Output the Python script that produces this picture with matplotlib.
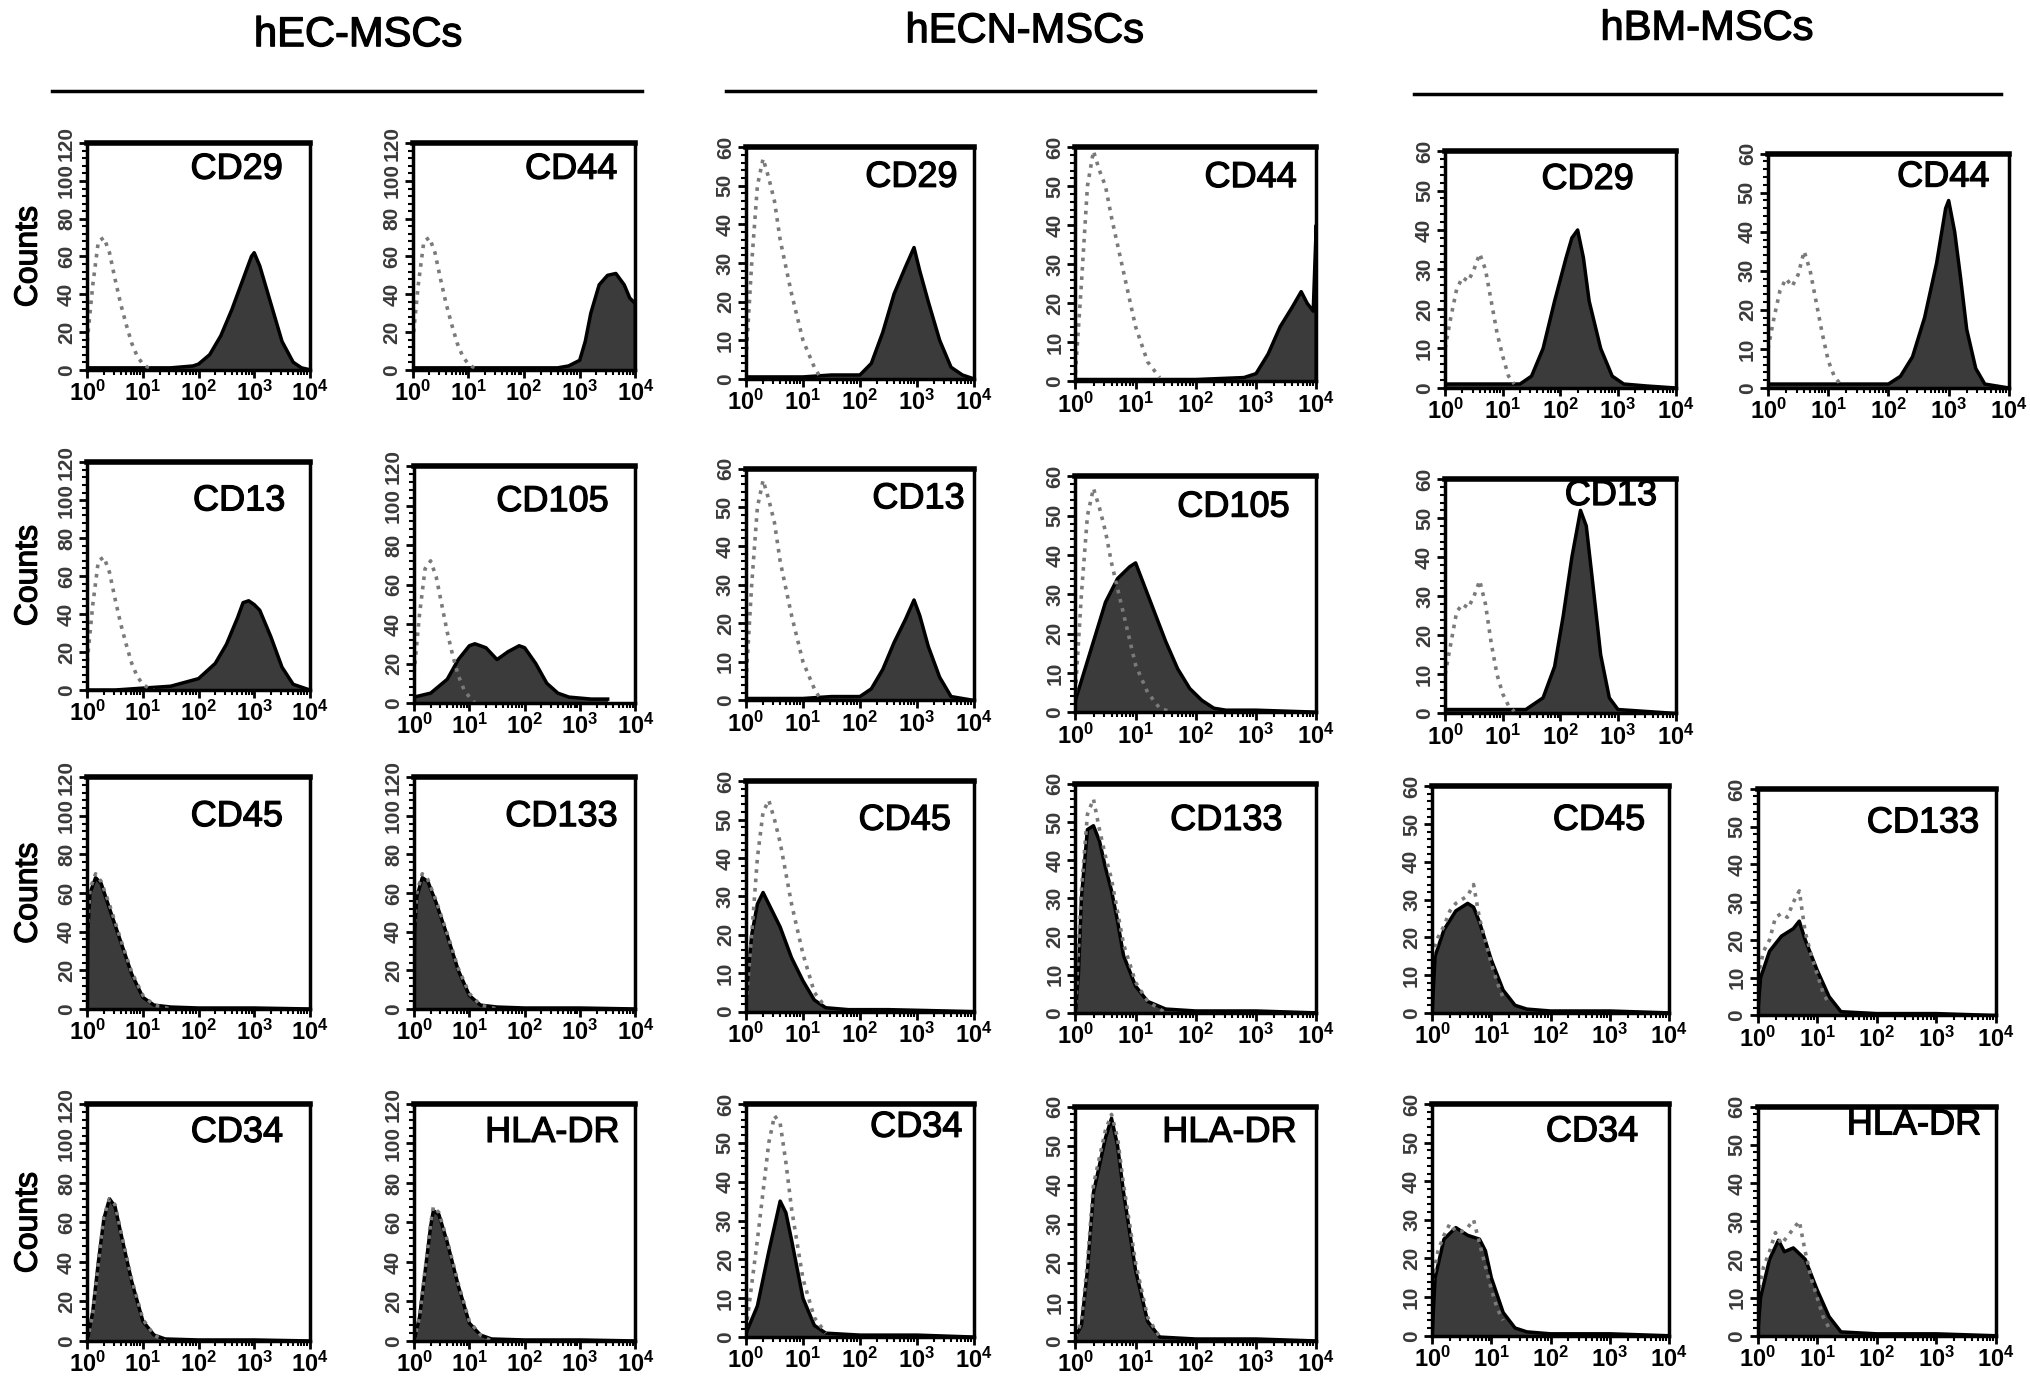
import numpy as np
import matplotlib.pyplot as plt
import matplotlib.patheffects as pe
from matplotlib.lines import Line2D
from matplotlib.ticker import MultipleLocator, LogLocator, NullFormatter

plt.rcParams['font.family'] = ['Liberation Sans', 'DejaVu Sans']
plt.rcParams['mathtext.fontset'] = 'custom'
plt.rcParams['mathtext.rm'] = 'Liberation Sans'
plt.rcParams['mathtext.it'] = 'Liberation Sans'
plt.rcParams['mathtext.bf'] = 'Liberation Sans:bold'

# ---- data: log10(fluorescence) positions and counts ----
groups = ['hEC-MSCs', 'hECN-MSCs', 'hBM-MSCs']
group_ymax = [120, 60, 60]

# hEC-MSCs
hec_cd29_x = [0, 0.5, 1.0, 1.5, 1.9, 2.0, 2.2, 2.4, 2.6, 2.8, 2.95, 3.0, 3.1, 3.3, 3.5, 3.7, 3.85, 4.0]
hec_cd29_y = [1, 1, 1, 1, 2, 3, 8, 18, 32, 48, 60, 62, 55, 35, 15, 4, 1, 0]
hec_cd29_iso_x = [0, 0.1, 0.2, 0.3, 0.4, 0.5, 0.6, 0.7, 0.8, 0.9, 1.0, 1.1, 1.2]
hec_cd29_iso_y = [15, 45, 68, 70, 62, 48, 35, 24, 14, 7, 3, 1, 0]

hec_cd44_x = [0, 1.0, 2.0, 2.6, 2.8, 3.0, 3.1, 3.2, 3.35, 3.5, 3.65, 3.8, 3.9, 4.0, 4.0]
hec_cd44_y = [1, 1, 1, 1, 2, 5, 15, 30, 45, 50, 51, 45, 38, 35, 0]
hec_cd44_iso_x = [0, 0.1, 0.2, 0.3, 0.4, 0.5, 0.6, 0.7, 0.8, 0.9, 1.0, 1.1, 1.2]
hec_cd44_iso_y = [15, 45, 68, 70, 62, 48, 35, 24, 14, 7, 3, 1, 0]

hec_cd13_x = [0, 0.5, 1.0, 1.5, 2.0, 2.3, 2.5, 2.7, 2.8, 2.9, 3.0, 3.1, 3.3, 3.5, 3.7, 3.9, 4.0]
hec_cd13_y = [0, 0, 1, 2, 6, 14, 24, 38, 46, 47, 45, 42, 28, 12, 3, 1, 0]
hec_cd13_iso_x = [0, 0.1, 0.2, 0.3, 0.4, 0.5, 0.6, 0.7, 0.8, 0.9, 1.0, 1.1, 1.2]
hec_cd13_iso_y = [15, 45, 68, 70, 62, 48, 35, 24, 14, 7, 3, 1, 0]

hec_cd105_x = [0, 0.3, 0.6, 0.8, 1.0, 1.1, 1.3, 1.5, 1.7, 1.9, 2.0, 2.2, 2.4, 2.6, 2.8, 3.2, 3.5]
hec_cd105_y = [3, 5, 12, 22, 29, 30, 28, 22, 26, 29, 28, 20, 10, 5, 3, 2, 2]
hec_cd105_iso_x = [0, 0.1, 0.2, 0.3, 0.4, 0.5, 0.6, 0.7, 0.8, 0.9, 1.0, 1.1]
hec_cd105_iso_y = [15, 45, 68, 72, 64, 50, 36, 24, 14, 7, 3, 0]

hec_cd45_x = [0, 0.01, 0.05, 0.15, 0.25, 0.4, 0.6, 0.8, 1.0, 1.2, 1.5, 2.0, 3.0, 4.0]
hec_cd45_y = [0, 40, 60, 68, 65, 52, 35, 18, 6, 2, 1, 0.5, 0.5, 0]
hec_cd45_iso_x = [0, 0.05, 0.15, 0.25, 0.4, 0.6, 0.8, 1.0, 1.2, 1.5]
hec_cd45_iso_y = [40, 62, 70, 66, 54, 36, 19, 7, 2, 0]

hec_cd133_x = [0, 0.01, 0.05, 0.15, 0.25, 0.4, 0.6, 0.8, 1.0, 1.2, 1.5, 2.0, 3.0, 4.0]
hec_cd133_y = [0, 40, 58, 68, 66, 55, 38, 20, 7, 2, 1, 0.5, 0.5, 0]
hec_cd133_iso_x = [0, 0.05, 0.15, 0.25, 0.4, 0.6, 0.8, 1.0, 1.2, 1.5]
hec_cd133_iso_y = [40, 60, 70, 67, 56, 39, 21, 8, 2, 0]

hec_cd34_x = [0, 0.1, 0.2, 0.3, 0.4, 0.5, 0.6, 0.8, 1.0, 1.2, 1.4, 2.0, 3.0, 4.0]
hec_cd34_y = [0, 15, 40, 62, 72, 68, 55, 30, 10, 3, 1, 0.5, 0.5, 0]
hec_cd34_iso_x = [0, 0.1, 0.2, 0.3, 0.4, 0.5, 0.6, 0.8, 1.0, 1.2, 1.4]
hec_cd34_iso_y = [0, 14, 40, 63, 72, 69, 56, 31, 11, 3, 0]

hec_hla_x = [0, 0.1, 0.2, 0.3, 0.35, 0.45, 0.6, 0.8, 1.0, 1.2, 1.4, 2.0, 3.0, 4.0]
hec_hla_y = [0, 12, 35, 58, 66, 64, 50, 28, 9, 3, 1, 0.5, 0.5, 0]
hec_hla_iso_x = [0, 0.1, 0.2, 0.3, 0.35, 0.45, 0.6, 0.8, 1.0, 1.2, 1.4]
hec_hla_iso_y = [0, 12, 36, 59, 68, 65, 51, 29, 10, 3, 0]

# hECN-MSCs
hecn_cd29_x = [0, 0.5, 1.0, 1.5, 2.0, 2.2, 2.4, 2.6, 2.8, 2.95, 3.05, 3.2, 3.4, 3.6, 3.8, 4.0]
hecn_cd29_y = [0.5, 0.5, 0.5, 1, 1, 4, 12, 22, 29, 34, 28, 20, 10, 3, 1, 0]
hecn_cd29_iso_x = [0, 0.1, 0.2, 0.3, 0.4, 0.5, 0.6, 0.8, 1.0, 1.2, 1.3]
hecn_cd29_iso_y = [5, 30, 50, 57, 52, 46, 36, 22, 10, 3, 0.5]

hecn_cd44_x = [0, 1.0, 2.0, 2.8, 3.0, 3.2, 3.4, 3.6, 3.75, 3.85, 3.95, 4.0, 4.0]
hecn_cd44_y = [0.5, 0.5, 0.5, 1, 2, 7, 14, 19, 23, 20, 18, 40, 0]
hecn_cd44_iso_x = [0, 0.1, 0.2, 0.3, 0.4, 0.5, 0.6, 0.8, 1.0, 1.2, 1.4]
hecn_cd44_iso_y = [2, 25, 50, 59, 54, 50, 42, 28, 14, 5, 1]

hecn_cd13_x = [0, 0.5, 1.0, 1.5, 2.0, 2.2, 2.4, 2.6, 2.8, 2.95, 3.05, 3.2, 3.4, 3.6, 3.8, 4.0]
hecn_cd13_y = [0.5, 0.5, 0.5, 1, 1, 3, 8, 15, 21, 26, 22, 14, 6, 1, 0.5, 0]
hecn_cd13_iso_x = [0, 0.1, 0.2, 0.3, 0.4, 0.5, 0.6, 0.8, 1.0, 1.2, 1.3]
hecn_cd13_iso_y = [5, 30, 50, 57, 52, 46, 36, 22, 10, 3, 0.5]

hecn_cd105_x = [0, 0.1, 0.3, 0.5, 0.7, 0.9, 1.0, 1.1, 1.3, 1.5, 1.7, 1.9, 2.1, 2.3, 2.5, 3.0, 4.0]
hecn_cd105_y = [3, 8, 18, 28, 34, 37, 38, 34, 26, 18, 11, 6, 3, 1, 0.5, 0.5, 0]
hecn_cd105_iso_x = [0, 0.1, 0.2, 0.3, 0.4, 0.5, 0.6, 0.8, 1.0, 1.2, 1.4, 1.6]
hecn_cd105_iso_y = [5, 30, 50, 57, 52, 46, 38, 25, 12, 5, 1, 0]

hecn_cd45_x = [0, 0.1, 0.2, 0.3, 0.4, 0.6, 0.8, 1.0, 1.2, 1.4, 1.8, 2.5, 4.0]
hecn_cd45_y = [4, 20, 28, 31, 28, 22, 14, 8, 3, 1, 0.5, 0.5, 0]
hecn_cd45_iso_x = [0, 0.1, 0.2, 0.3, 0.4, 0.5, 0.6, 0.8, 1.0, 1.2, 1.4]
hecn_cd45_iso_y = [2, 20, 40, 52, 55, 50, 44, 28, 15, 5, 1]

hecn_cd133_x = [0, 0.05, 0.1, 0.2, 0.3, 0.4, 0.5, 0.6, 0.7, 0.8, 1.0, 1.2, 1.5, 2.0, 3.0, 4.0]
hecn_cd133_y = [0, 10, 30, 48, 49, 45, 38, 32, 24, 15, 7, 3, 1, 0.5, 0.5, 0]
hecn_cd133_iso_x = [0, 0.1, 0.2, 0.3, 0.4, 0.5, 0.6, 0.8, 1.0, 1.2, 1.5]
hecn_cd133_iso_y = [0, 32, 52, 56, 48, 41, 35, 18, 8, 3, 0]

hecn_cd34_x = [0, 0.2, 0.4, 0.6, 0.7, 0.8, 1.0, 1.2, 1.4, 2.0, 3.0, 4.0]
hecn_cd34_y = [1, 8, 22, 35, 32, 25, 10, 3, 1, 0.5, 0.5, 0]
hecn_cd34_iso_x = [0, 0.2, 0.4, 0.5, 0.6, 0.7, 0.8, 1.0, 1.2, 1.4]
hecn_cd34_iso_y = [2, 25, 50, 57, 55, 45, 33, 15, 5, 1]

hecn_hla_x = [0, 0.1, 0.2, 0.3, 0.5, 0.6, 0.7, 0.8, 1.0, 1.2, 1.4, 2.0, 3.0, 4.0]
hecn_hla_y = [1, 4, 18, 38, 52, 57, 50, 38, 18, 5, 1, 0.5, 0.5, 0]
hecn_hla_iso_x = [0, 0.1, 0.2, 0.3, 0.5, 0.6, 0.7, 0.8, 1.0, 1.2, 1.4]
hecn_hla_iso_y = [1, 5, 20, 40, 54, 58, 52, 40, 20, 6, 1]

# hBM-MSCs
hbm_iso_x = [0, 0.1, 0.2, 0.3, 0.4, 0.5, 0.6, 0.7, 0.8, 0.9, 1.0, 1.1, 1.2]

hbm_cd29_x = [0, 0.5, 1.0, 1.3, 1.5, 1.7, 1.9, 2.1, 2.2, 2.3, 2.4, 2.5, 2.7, 2.9, 3.1, 3.5, 4.0]
hbm_cd29_y = [1, 1, 1, 1, 3, 10, 22, 33, 38, 40, 33, 22, 10, 3, 1, 0.5, 0]
hbm_cd29_iso_y = [10, 18, 25, 28, 27, 30, 34, 30, 22, 14, 8, 3, 1]

hbm_cd44_x = [0, 1.0, 2.0, 2.2, 2.4, 2.6, 2.8, 2.95, 3.0, 3.1, 3.2, 3.3, 3.45, 3.6, 4.0]
hbm_cd44_y = [1, 1, 1, 3, 8, 18, 32, 46, 48, 40, 28, 15, 5, 1, 0]
hbm_cd44_iso_y = [10, 18, 25, 28, 26, 29, 35, 30, 22, 14, 7, 3, 1]

hbm_cd13_x = [0, 0.5, 1.0, 1.4, 1.7, 1.9, 2.05, 2.2, 2.35, 2.45, 2.55, 2.7, 2.85, 3.0, 3.5, 4.0]
hbm_cd13_y = [1, 1, 1, 1, 4, 12, 25, 40, 52, 48, 35, 15, 4, 1, 0.5, 0]
hbm_cd13_iso_y = [10, 18, 26, 28, 27, 30, 34, 28, 18, 10, 5, 2, 0.5]

hbm_cd45_x = [0, 0.05, 0.2, 0.4, 0.6, 0.7, 0.8, 1.0, 1.2, 1.4, 1.6, 2.0, 3.0, 4.0]
hbm_cd45_y = [0, 15, 22, 27, 29, 28, 24, 14, 6, 2, 1, 0.5, 0.5, 0]
hbm_cd45_iso_y = [15, 20, 23, 27, 29, 30, 31, 34, 25, 19, 13, 8, 4]

hbm_cd133_x = [0, 0.05, 0.2, 0.4, 0.6, 0.7, 0.8, 1.0, 1.2, 1.4, 2.0, 3.0, 4.0]
hbm_cd133_y = [0, 10, 17, 21, 23, 25, 20, 12, 5, 1, 0.5, 0.5, 0]
hbm_cd133_iso_y = [10, 17, 20, 26, 27, 26, 30, 33, 22, 16, 11, 6, 3]

hbm_cd34_x = [0, 0.05, 0.2, 0.4, 0.6, 0.8, 0.9, 1.0, 1.2, 1.4, 1.6, 2.0, 3.0, 4.0]
hbm_cd34_y = [0, 15, 25, 28, 26, 25, 22, 15, 6, 2, 1, 0.5, 0.5, 0]
hbm_cd34_iso_y = [14, 22, 26, 29, 27, 27, 28, 30, 24, 18, 12, 7, 4]

hbm_hla_x = [0, 0.05, 0.2, 0.35, 0.45, 0.6, 0.8, 1.0, 1.2, 1.4, 2.0, 3.0, 4.0]
hbm_hla_y = [0, 10, 20, 25, 22, 23, 20, 12, 5, 1, 0.5, 0.5, 0]
hbm_hla_iso_y = [10, 18, 22, 27, 24, 26, 28, 30, 22, 15, 10, 5, 2]

# ---- panels: group index, marker, filled curve, isotype curve ----
panels = [
    (0, 'CD29', hec_cd29_x, hec_cd29_y, hec_cd29_iso_x, hec_cd29_iso_y),
    (0, 'CD44', hec_cd44_x, hec_cd44_y, hec_cd44_iso_x, hec_cd44_iso_y),
    (0, 'CD13', hec_cd13_x, hec_cd13_y, hec_cd13_iso_x, hec_cd13_iso_y),
    (0, 'CD105', hec_cd105_x, hec_cd105_y, hec_cd105_iso_x, hec_cd105_iso_y),
    (0, 'CD45', hec_cd45_x, hec_cd45_y, hec_cd45_iso_x, hec_cd45_iso_y),
    (0, 'CD133', hec_cd133_x, hec_cd133_y, hec_cd133_iso_x, hec_cd133_iso_y),
    (0, 'CD34', hec_cd34_x, hec_cd34_y, hec_cd34_iso_x, hec_cd34_iso_y),
    (0, 'HLA-DR', hec_hla_x, hec_hla_y, hec_hla_iso_x, hec_hla_iso_y),
    (1, 'CD29', hecn_cd29_x, hecn_cd29_y, hecn_cd29_iso_x, hecn_cd29_iso_y),
    (1, 'CD44', hecn_cd44_x, hecn_cd44_y, hecn_cd44_iso_x, hecn_cd44_iso_y),
    (1, 'CD13', hecn_cd13_x, hecn_cd13_y, hecn_cd13_iso_x, hecn_cd13_iso_y),
    (1, 'CD105', hecn_cd105_x, hecn_cd105_y, hecn_cd105_iso_x, hecn_cd105_iso_y),
    (1, 'CD45', hecn_cd45_x, hecn_cd45_y, hecn_cd45_iso_x, hecn_cd45_iso_y),
    (1, 'CD133', hecn_cd133_x, hecn_cd133_y, hecn_cd133_iso_x, hecn_cd133_iso_y),
    (1, 'CD34', hecn_cd34_x, hecn_cd34_y, hecn_cd34_iso_x, hecn_cd34_iso_y),
    (1, 'HLA-DR', hecn_hla_x, hecn_hla_y, hecn_hla_iso_x, hecn_hla_iso_y),
    (2, 'CD29', hbm_cd29_x, hbm_cd29_y, hbm_iso_x, hbm_cd29_iso_y),
    (2, 'CD44', hbm_cd44_x, hbm_cd44_y, hbm_iso_x, hbm_cd44_iso_y),
    (2, 'CD13', hbm_cd13_x, hbm_cd13_y, hbm_iso_x, hbm_cd13_iso_y),
    (2, 'CD45', hbm_cd45_x, hbm_cd45_y, hbm_iso_x, hbm_cd45_iso_y),
    (2, 'CD133', hbm_cd133_x, hbm_cd133_y, hbm_iso_x, hbm_cd133_iso_y),
    (2, 'CD34', hbm_cd34_x, hbm_cd34_y, hbm_iso_x, hbm_cd34_iso_y),
    (2, 'HLA-DR', hbm_hla_x, hbm_hla_y, hbm_iso_x, hbm_hla_iso_y),
]

# layout in pixels of a 1560x1060 view: left, right, top, bottom, label right edge, label y
W, H = 1560.0, 1060.0
boxes = [
    (67, 238, 110, 284, 0.88, 0.885), (317, 488, 110, 284, 0.92, 0.885),
    (67, 238, 355, 530, 0.89, 0.83), (318, 488, 358, 540, 0.88, 0.85),
    (67, 238, 597, 775, 0.88, 0.83), (318, 488, 597, 775, 0.92, 0.83),
    (67, 238, 848, 1030, 0.88, 0.88), (318, 488, 848, 1030, 0.93, 0.88),
    (573, 748, 113, 291, 0.93, 0.87), (826, 1011, 113, 293, 0.92, 0.87),
    (573, 748, 360, 538, 0.96, 0.87), (826, 1011, 366, 547, 0.89, 0.87),
    (573, 748, 600, 777, 0.90, 0.83), (826, 1011, 602, 778, 0.86, 0.84),
    (573, 748, 848, 1027, 0.95, 0.90), (826, 1011, 850, 1030, 0.92, 0.89),
    (1110, 1287, 116, 298, 0.82, 0.88), (1358, 1543, 118, 298, 0.92, 0.90),
    (1110, 1287, 368, 548, 0.92, 0.93),
    (1100, 1282, 604, 778, 0.90, 0.85), (1350, 1533, 606, 780, 0.93, 0.85),
    (1100, 1282, 848, 1026, 0.87, 0.88), (1350, 1533, 850, 1026, 0.94, 0.92),
]

thick = [pe.withStroke(linewidth=0.9, foreground='black')]

fig = plt.figure(figsize=(20.31, 13.80), dpi=100)

for (g, name, fx, fy, ix, iy), (l, r, t, b, lx, ly) in zip(panels, boxes):
    ax = fig.add_axes([l / W, 1 - b / H, (r - l) / W, (b - t) / H])
    ymax = group_ymax[g]
    xf = 10 ** np.array(fx)
    ax.fill_between(xf, fy, 0, color='#3b3b3b', lw=0)
    ax.plot(xf, fy, color='black', lw=2.5)
    ax.plot(10 ** np.array(ix), iy, color='#7a7a7a', lw=2.6, ls=(0, (1, 1.6)))
    ax.set_xscale('log')
    ax.set_xlim(1, 1e4)
    ax.set_ylim(0, ymax)
    ax.set_xticks([1, 10, 100, 1000, 10000])
    ax.set_xticklabels([r'$\mathbf{10^{%d}}$' % k for k in range(5)], fontsize=17)
    ax.xaxis.set_minor_locator(LogLocator(base=10, subs=np.arange(2, 10), numticks=10))
    ax.xaxis.set_minor_formatter(NullFormatter())
    step = 20 if ymax == 120 else 10
    ax.yaxis.set_major_locator(MultipleLocator(step))
    ax.yaxis.set_minor_locator(MultipleLocator(step / 5))
    for lab in ax.get_yticklabels():
        lab.set_rotation(90)
        lab.set_va('center')
        lab.set_fontsize(15)
        lab.set_fontweight('bold')
        lab.set_color('#3a3a3a')
    ax.tick_params(axis='both', which='major', direction='out', length=6, width=2, pad=2)
    ax.tick_params(axis='both', which='minor', direction='out', length=3.5, width=1.5)
    for side in ['left', 'right', 'bottom']:
        ax.spines[side].set_linewidth(2.5)
    ax.spines['top'].set_linewidth(4)
    ax.text(lx, ly, name, transform=ax.transAxes, ha='right', va='center', fontsize=26,
            path_effects=thick)

# group titles and rules
titles = [(275, 27, 40, 493, 70), (787, 24, 558, 1010, 70), (1311, 22, 1086, 1537, 72)]
for name, (cx, cy, x0, x1, ly) in zip(groups, titles):
    fig.text(cx / W, 1 - cy / H, name, ha='center', va='center', fontsize=30, path_effects=thick)
    fig.add_artist(Line2D([x0 / W, x1 / W], [1 - ly / H, 1 - ly / H], color='black', lw=2.5,
                          transform=fig.transFigure))

# Counts labels for the first column
for yc in [197, 442, 686, 939]:
    fig.text(22 / W, 1 - yc / H, 'Counts', rotation=90, ha='center', va='center', fontsize=23,
             path_effects=thick)

fig.savefig('out.png', dpi=100)
